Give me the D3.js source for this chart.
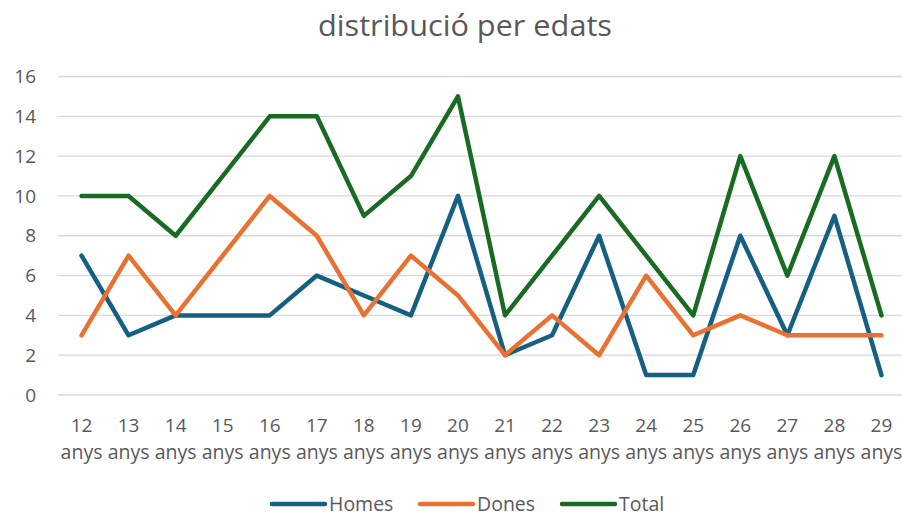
<!DOCTYPE html>
<html><head><meta charset="utf-8">
<script src="https://cdn.jsdelivr.net/npm/d3@7"></script>
<style>body{margin:0;background:#fff}svg{display:block}text{font-family:"Open Sans",Roboto,sans-serif;fill:#595959}</style>
</head><body><svg id="c" width="902" height="516"></svg>
<script>
const categories = ["12","13","14","15","16","17","18","19","20","21","22","23","24","25","26","27","28","29"];
const homes = [7,3,4,4,4,6,5,4,10,2,3,8,1,1,8,3,9,1];
const dones = [3,7,4,7,10,8,4,7,5,2,4,2,6,3,4,3,3,3];
const total = [10,10,8,11,14,14,9,11,15,4,7,10,7,4,12,6,12,4];
const yTicks = [0,2,4,6,8,10,12,14,16];
const seriesNames = ["Homes","Dones","Total"];
const colors = ["#156082","#E97132","#196B24"];

const svg = d3.select("#c");
const x = d3.scaleBand().domain(categories).range([58,905]);
const y = d3.scaleLinear().domain([0,16]).range([395,76.5]);

const title = svg.append("text").attr("x",465).attr("y",36).attr("text-anchor","middle")
  .style("font-size","29px").text("distribució per edats");
title.attr("textLength",294).attr("lengthAdjust","spacingAndGlyphs");

const grid = svg.append("g");
grid.selectAll("line").data(yTicks).join("line")
  .attr("x1",58).attr("x2",902).attr("y1",d=>y(d)).attr("y2",d=>y(d))
  .attr("stroke","#d9d9d9").attr("stroke-width",1.3);
grid.selectAll("text").data(yTicks).join("text")
  .attr("x",36).attr("y",d=>y(d)).attr("dy","0.35em").attr("text-anchor","end")
  .style("font-size","19px").text(d=>d);

const xl = svg.append("g").selectAll("g").data(categories).join("g")
  .attr("transform",d=>`translate(${x(d)+x.bandwidth()/2},0)`);
xl.append("text").attr("y",432).attr("text-anchor","middle").style("font-size","19px").text(d=>d);
xl.append("text").attr("y",459).attr("text-anchor","middle").style("font-size","19.5px").text("anys");

const data = [homes,dones,total];
const line = d3.line().x((d,i)=>x(categories[i])+x.bandwidth()/2).y(d=>y(d));
svg.append("g").selectAll("path").data(data).join("path")
  .attr("d",line).attr("fill","none").attr("stroke",(d,i)=>colors[i])
  .attr("stroke-width",4.5).attr("stroke-linejoin","round").attr("stroke-linecap","round");

const legX = [272,420,562];
const lg = svg.append("g").selectAll("g").data(seriesNames).join("g")
  .attr("transform",(d,i)=>`translate(${legX[i]},504)`);
lg.append("line").attr("x1",0).attr("x2",53).attr("stroke",(d,i)=>colors[i])
  .attr("stroke-width",4.5).attr("stroke-linecap","round");
lg.append("text").attr("x",57).attr("dy","0.35em").style("font-size","19.5px").text(d=>d);
</script></body></html>
